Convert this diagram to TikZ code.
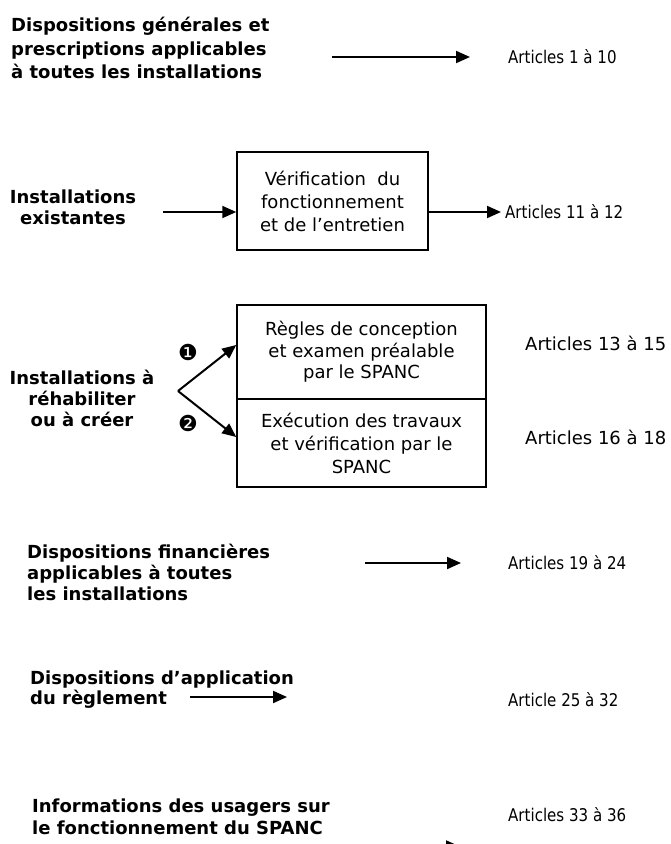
\documentclass[tikz,border=0pt]{standalone}
\usepackage{fontspec}
\setmainfont{DejaVu Sans}
\newfontfamily\condf{DejaVu Sans}[FakeStretch=0.86]
\usetikzlibrary{arrows.meta}
\begin{document}
\begin{tikzpicture}[x=1pt,y=-1pt,
  lbl/.style={font=\bfseries\fontsize{18}{21}\selectfont, inner sep=0pt},
  art/.style={font=\condf\fontsize{17.5}{20}\selectfont, inner sep=0pt, anchor=west},
  artw/.style={font=\fontsize{18}{20}\selectfont, inner sep=0pt, anchor=west},
  box/.style={draw, line width=1.5pt, align=center, inner sep=0pt},
  arr/.style={line width=2pt, -{Triangle[length=14pt,width=12pt]}},
  num/.style={font=\fontsize{22}{22}\selectfont, inner sep=0pt}]
\useasboundingbox (0,0) rectangle (671,844);
\clip (0,0) rectangle (671,844);
% Row 1
\node[lbl, font=\bfseries\fontsize{18}{23.5}\selectfont, align=left, anchor=west] (r1) at (11,48)
  {Dispositions générales et\\prescriptions applicables\\à toutes les installations};
\node[art] (a1) at (508,57) {Articles 1 à 10};
\coordinate (r1s) at (332,57);
\coordinate (r1e) at (470,57);
\draw[arr] (r1s) -- (r1e);
% Row 2
\node[lbl, align=center] (r2) at (73,207.5) {Installations\\existantes};
\node[box, font=\fontsize{18}{23}\selectfont, minimum width=191pt, minimum height=98pt] (b2) at (332.5,201)
  {Vérification~~du\\fonctionnement\\et de l’entretien};
\coordinate (r2s) at (163,212);
\draw[arr] (r2s) -- (r2s -| b2.west);
\node[art] (a2) at (505,212) {Articles 11 à 12};
\draw[arr, shorten >=4pt] (a2.west -| b2.east) -- (a2.west);
% Row 3
\node[lbl, font=\bfseries\fontsize{18}{21}\selectfont, align=center] (r3) at (82,398)
  {Installations à\\réhabiliter\\ou à créer};
\node[box, font=\fontsize{18}{21.5}\selectfont, minimum width=249pt, minimum height=94pt] (b3a) at (361.5,352)
  {Règles de conception\\et examen préalable\\par le SPANC};
\node[box, font=\fontsize{18}{23}\selectfont, minimum width=249pt, minimum height=88pt] (b3b) at (361.5,443)
  {Exécution des travaux\\et vérification par le\\SPANC};
\coordinate (apex) at (178,391);
\draw[arr] (apex) -- ([yshift=7pt]b3a.west);
\draw[arr] (apex) -- ([yshift=6pt]b3b.west);
\node[num] (n1) at (188,352) {❶};
\node[num] (n2) at (188,423) {❷};
\node[artw] (a3) at (525,343) {Articles 13 à 15};
\node[artw] (a4) at (525,437) {Articles 16 à 18};
% Row 4
\node[lbl, align=left, anchor=west] (r4) at (27,572)
  {Dispositions financières\\applicables à toutes\\les installations};
\coordinate (r4s) at (365,563);
\coordinate (r4e) at (461,563);
\draw[arr] (r4s) -- (r4e);
\node[art] (a5) at (508,563) {Articles 19 à 24};
% Row 5
\node[lbl, font=\bfseries\fontsize{18}{20}\selectfont, align=left, anchor=west] (r5) at (30,690)
  {Dispositions d’application\\du règlement};
\coordinate (r5s) at (190,697);
\coordinate (r5e) at (287,697);
\draw[arr] (r5s) -- (r5e);
\node[art] (a6) at (508,700) {Article 25 à 32};
% Row 6
\node[lbl, font=\bfseries\fontsize{18}{22}\selectfont, align=left, anchor=west] (r6) at (32,817)
  {Informations des usagers sur\\le fonctionnement du SPANC};
\node[art] (a7) at (508,815) {Articles 33 à 36};
\coordinate (r6s) at (360,846.5);
\coordinate (r6e) at (460,846.5);
\draw[arr] (r6s) -- (r6e);
\end{tikzpicture}
\end{document}
